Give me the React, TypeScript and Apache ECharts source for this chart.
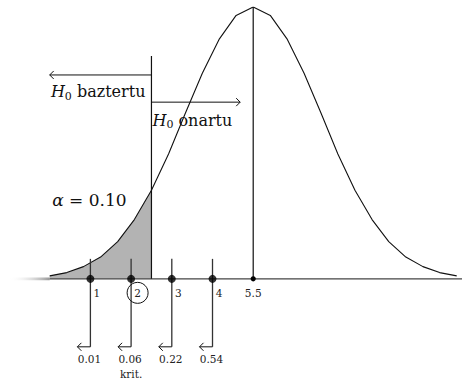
import React, { useEffect, useRef } from "react";
import * as echarts from "echarts";

// Curve (positions along the axis, relative height)
const curveX = [0, 0.42, 0.83, 1.25, 1.67, 2.08, 2.5, 2.92, 3.33, 3.75, 4.17, 4.58, 5, 5.42, 5.83, 6.25, 6.67, 7.08, 7.5, 7.92, 8.33, 8.75, 9.17, 9.58, 10];
const curveY = [0.011, 0.023, 0.045, 0.08, 0.137, 0.218, 0.326, 0.459, 0.608, 0.756, 0.883, 0.969, 1.0, 0.969, 0.883, 0.756, 0.608, 0.459, 0.326, 0.218, 0.137, 0.08, 0.045, 0.023, 0.011];
const shadedCount = 7; // curve points up to the critical value

const criticalX = 2.5;
const criticalTop = 0.82;
const meanX = 5;
const meanLabel = "5.5";

const pointX = [1, 2, 3, 4];
const tickLabels = ["1", "2", "3", "4"];
const pValues = ["0.01", "0.06", "0.22", "0.54"];
const critIndex = 1;
const critText = "krit.";

const alphaText = "= 0.10";
const alphaPos = [0.06, 0.29];
const rejectText = "baztertu";
const acceptText = "onartu";
// [fromX, toX, y]
const rejectArrow = [2.5, 0, 0.75];
const acceptArrow = [2.5, 4.68, 0.65];
const fadeRange = [-1, 0];

const SERIF = '"DejaVu Serif", "Liberation Serif", serif';
const INK = "#111";
const STEM = "#333";

function arrowHead(tx: number, ty: number, dir: number, size = 4) {
  return {
    type: "polyline",
    shape: { points: [[tx - dir * size, ty - size], [tx, ty], [tx - dir * size, ty + size]] },
    style: { stroke: INK, fill: null, lineWidth: 1 },
  };
}

export default function App() {
  const ref = useRef<HTMLDivElement>(null);
  useEffect(() => {
    document.body.style.margin = "0";
    const chart = echarts.init(ref.current!, null, { renderer: "svg" });
    const curve = curveX.map((x, i) => [x, curveY[i]]);
    const option: any = {
      animation: false,
      grid: { left: 9, right: 0, top: 7, bottom: 7 },
      xAxis: { type: "value", min: -1, max: 10.13, show: false },
      yAxis: { type: "value", min: -0.35, max: 1, show: false },
      series: [
        {
          type: "line",
          data: curve.slice(0, shadedCount),
          symbol: "none",
          lineStyle: { width: 0 },
          areaStyle: { color: "#b3b3b3", opacity: 1 },
          z: 1,
        },
        {
          type: "custom",
          data: [fadeRange],
          z: 2,
          renderItem: (params: any, api: any) => {
            const a = api.coord([api.value(0), 0]);
            const b = api.coord([api.value(1), 0]);
            return {
              type: "rect",
              shape: { x: a[0], y: a[1] - 1.3, width: b[0] - a[0], height: 2.6 },
              style: {
                fill: new echarts.graphic.LinearGradient(0, 0, 1, 0, [
                  { offset: 0, color: "rgba(255,255,255,0)" },
                  { offset: 1, color: "rgba(150,150,150,1)" },
                ]),
              },
            };
          },
        },
        {
          type: "line",
          data: [[0, 0], [10.13, 0]],
          symbol: "none",
          lineStyle: { width: 1.3, color: "#444" },
          z: 2,
        },
        {
          type: "line",
          data: curve,
          symbol: "none",
          lineStyle: { width: 1.1, color: INK },
          z: 3,
        },
        {
          type: "line",
          data: [[criticalX, 0], [criticalX, criticalTop]],
          symbol: "none",
          lineStyle: { width: 1.2, color: INK },
          z: 3,
        },
        {
          type: "line",
          data: [[meanX, 0], [meanX, 1]],
          symbol: "none",
          lineStyle: { width: 1.2, color: INK },
          z: 3,
        },
        {
          type: "custom",
          data: pointX.map((x, i) => [x, i]),
          z: 4,
          renderItem: (params: any, api: any) => {
            const x = api.value(0);
            const i = api.value(1);
            const top = api.coord([x, 0.0735]);
            const base = api.coord([x, 0]);
            const bot = api.coord([x, -0.25]);
            const tipX = bot[0] - 13;
            const children: any[] = [
              { type: "line", shape: { x1: top[0], y1: top[1], x2: bot[0], y2: bot[1] }, style: { stroke: STEM, lineWidth: 1.3 } },
              { type: "line", shape: { x1: bot[0], y1: bot[1], x2: tipX, y2: bot[1] }, style: { stroke: INK, lineWidth: 1 } },
              arrowHead(tipX, bot[1], -1),
              {
                type: "text",
                x: bot[0] - 1,
                y: bot[1] + 12,
                style: { text: pValues[i], font: `10.5px ${SERIF}`, fill: "#222", align: "center", verticalAlign: "middle" },
              },
              {
                type: "text",
                x: base[0] + 6.5,
                y: base[1] + 14,
                style: { text: tickLabels[i], font: `10.5px ${SERIF}`, fill: "#222", align: "center", verticalAlign: "middle" },
              },
            ];
            if (i === critIndex) {
              children.push({
                type: "circle",
                shape: { cx: base[0] + 6.5, cy: base[1] + 14, r: 10.5 },
                style: { stroke: INK, fill: null, lineWidth: 1 },
              });
              children.push({
                type: "text",
                x: bot[0],
                y: bot[1] + 27,
                style: { text: critText, font: `10.5px ${SERIF}`, fill: "#222", align: "center", verticalAlign: "middle" },
              });
            }
            return { type: "group", children };
          },
        },
        {
          type: "scatter",
          data: pointX.map((x) => [x, 0]),
          symbolSize: 8,
          itemStyle: { color: "#000" },
          z: 5,
        },
        {
          type: "custom",
          data: [[meanX, 0]],
          z: 5,
          renderItem: (params: any, api: any) => {
            const p = api.coord([api.value(0), api.value(1)]);
            return {
              type: "group",
              children: [
                { type: "circle", shape: { cx: p[0], cy: p[1], r: 2.6 }, style: { fill: "#000" } },
                {
                  type: "text",
                  x: p[0],
                  y: p[1] + 14,
                  style: { text: meanLabel, font: `10.5px ${SERIF}`, fill: "#222", align: "center", verticalAlign: "middle" },
                },
              ],
            };
          },
        },
        {
          type: "custom",
          data: [[0]],
          z: 6,
          renderItem: (params: any, api: any) => {
            const r0 = api.coord([rejectArrow[0], rejectArrow[2]]);
            const r1 = api.coord([rejectArrow[1], rejectArrow[2]]);
            const a0 = api.coord([acceptArrow[0], acceptArrow[2]]);
            const a1 = api.coord([acceptArrow[1], acceptArrow[2]]);
            const al = api.coord(alphaPos);
            const rich = {
              i: { fontFamily: SERIF, fontStyle: "italic", fontSize: 16, lineHeight: 20, fill: INK },
              s: { fontFamily: SERIF, fontSize: 11, lineHeight: 13, verticalAlign: "bottom", fill: INK, padding: [0, 0, 0, 0] },
              t: { fontFamily: SERIF, fontSize: 16, lineHeight: 20, fill: INK },
            };
            return {
              type: "group",
              children: [
                { type: "line", shape: { x1: r0[0], y1: r0[1], x2: r1[0], y2: r1[1] }, style: { stroke: INK, lineWidth: 1 } },
                arrowHead(r1[0], r1[1], -1),
                { type: "line", shape: { x1: a0[0], y1: a0[1], x2: a1[0], y2: a1[1] }, style: { stroke: INK, lineWidth: 1 } },
                arrowHead(a1[0], a1[1], 1),
                {
                  type: "text",
                  x: r0[0] - 6,
                  y: r0[1] + 17,
                  style: { text: `{i|H}{s|0}{t| ${rejectText}}`, rich, align: "right", verticalAlign: "middle" },
                },
                {
                  type: "text",
                  x: a0[0] + 1,
                  y: a0[1] + 18,
                  style: { text: `{i|H}{s|0}{t| ${acceptText}}`, rich, align: "left", verticalAlign: "middle" },
                },
                {
                  type: "text",
                  x: al[0],
                  y: al[1],
                  style: {
                    text: `{i|α}{t| ${alphaText}}`,
                    rich: {
                      i: { fontFamily: SERIF, fontStyle: "italic", fontSize: 17, fill: INK },
                      t: { fontFamily: SERIF, fontSize: 17, fill: INK },
                    },
                    align: "left",
                    verticalAlign: "middle",
                  },
                },
              ],
            };
          },
        },
      ],
    };
    chart.setOption(option);
    return () => chart.dispose();
  }, []);
  return <div ref={ref} style={{ width: 462, height: 381 }} />;
}
